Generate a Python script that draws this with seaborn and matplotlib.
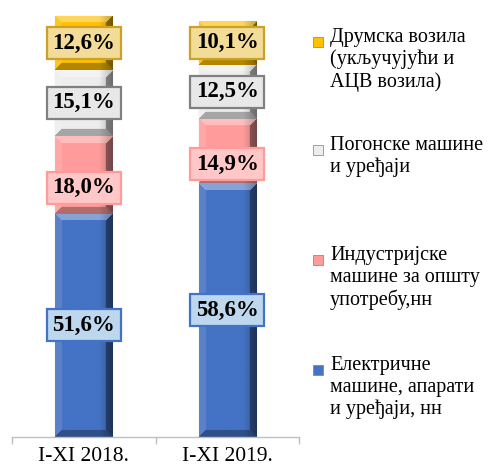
import numpy as np
import pandas as pd
import seaborn as sns
import matplotlib.pyplot as plt
from matplotlib.patches import Rectangle
from matplotlib.colors import to_rgb

periods = ["I-XI 2018.", "I-XI 2019."]
series = [
    "Електричне\nмашине, апарати\nи уређаји, нн",
    "Индустријске\nмашине за општу\nупотребу,нн",
    "Погонске машине\nи уређаји",
    "Друмска возила\n(укључујући и\nАЦВ возила)",
]
electric = [51.6, 58.6]
industrial = [18.0, 14.9]
drive = [15.1, 12.5]
road = [12.6, 10.1]

values = [electric, industrial, drive, road]
bar_colors = ["#4472C4", "#FF9B9B", "#EDEDED", "#FFC000"]
box_face = ["#BDD7EE", "#FFC7C7", "#E8E8E8", "#F2DC98"]
box_edge = ["#4472C4", "#FF9B9B", "#808080", "#C9A227"]
label_nudge = [0, -3, 0, 0]


def bevel(ax, patch, color, bpx=7):
    x0, y0 = patch.get_x(), patch.get_y()
    w, h = patch.get_width(), patch.get_height()
    p0 = ax.transData.transform((x0, y0))
    p1 = ax.transData.transform((x0 + w, y0 + h))
    W = max(int(abs(p1[0] - p0[0])), 2)
    H = max(int(abs(p1[1] - p0[1])), 2)
    ii, jj = np.mgrid[0:H, 0:W]
    d = np.stack([ii, H - 1 - ii, jj, W - 1 - jj])
    side = d.argmin(axis=0)
    near = d.min(axis=0) < bpx
    base = np.array(to_rgb(color))
    img = np.tile(base, (H, W, 1))
    white, black = np.ones(3), np.zeros(3)
    mix = [(white, 0.35), (black, 0.3), (white, 0.12), (black, 0.4)]
    for k, (tgt, a) in enumerate(mix):
        m = near & (side == k)
        img[m] = img[m] * (1 - a) + tgt * a
    # soft darkening toward the right edge
    fade = np.clip((jj - 0.75 * W) / (0.25 * W), 0, 1)[..., None] * 0.25
    img = img * (1 - fade)
    im = ax.imshow(img, extent=[x0, x0 + w, y0, y0 + h], origin="upper",
                   aspect="auto", interpolation="bilinear", zorder=2)
    im.set_clip_path(patch)


sns.set_theme(style="white")
plt.rcParams["font.family"] = ["Liberation Serif", "DejaVu Serif"]

fig = plt.figure(figsize=(4.94, 4.69), dpi=100)
ax = fig.add_axes([12 / 494, 32 / 469, 287 / 494, 433 / 469])

bottom = np.zeros(len(periods))
for vals, col in zip(values, bar_colors):
    df = pd.DataFrame({"period": periods, "share": vals})
    sns.barplot(data=df, x="period", y="share", bottom=bottom, color=col,
                width=0.4, errorbar=None, saturation=1, ax=ax,
                edgecolor="#A6A6A6", linewidth=0.8)
    bottom = bottom + np.array(vals)

ax.set_xlim(-0.5, 1.5)
ax.set_ylim(0, 100)

patches = list(ax.patches)
n = len(periods)
for k, col in enumerate(bar_colors):
    for p in patches[k * n:(k + 1) * n]:
        bevel(ax, p, col)
ax.set_xlim(-0.5, 1.5)
ax.set_ylim(0, 100)

# data labels
bottom = np.zeros(len(periods))
for k, vals in enumerate(values):
    for i, v in enumerate(vals):
        ax.text(i, bottom[i] + v / 2 + label_nudge[k], f"{v:.1f}%".replace(".", ","),
                ha="center", va="center", fontsize=16.5, fontweight="bold",
                color="black", zorder=5,
                bbox=dict(boxstyle="square,pad=0.24", fc=box_face[k],
                          ec=box_edge[k], lw=1.6))
    bottom = bottom + np.array(vals)

ax.set_xlabel("")
ax.set_ylabel("")
ax.set_yticks([])
for s in ["top", "right", "left"]:
    ax.spines[s].set_visible(False)
ax.spines["bottom"].set_color("#BFBFBF")
ax.spines["bottom"].set_linewidth(1)
ax.set_xticks([0, 1])
ax.set_xticklabels(periods, fontsize=15.5)
ax.set_xticks([-0.5, 0.5, 1.5], minor=True)
ax.tick_params(axis="x", which="major", length=0, pad=7, colors="black")
ax.tick_params(axis="x", which="minor", length=5, width=1, color="#BFBFBF",
               bottom=True)

# legend, top entry = last series; y = centre of first line (px from top)
legend_y = [42, 150, 260, 370]
for y, k in zip(legend_y, [3, 2, 1, 0]):
    fig.patches.append(Rectangle((313 / 494, 1 - (y + 5) / 469), 10 / 494, 10 / 469,
                                 transform=fig.transFigure, fc=bar_colors[k],
                                 ec="#7F7F7F", lw=0.5))
    fig.text(330 / 494, 1 - (y - 14) / 469, series[k], ha="left", va="top",
             fontsize=14.5, linespacing=1.18, color="black")

fig.savefig("out.png", dpi=100)
